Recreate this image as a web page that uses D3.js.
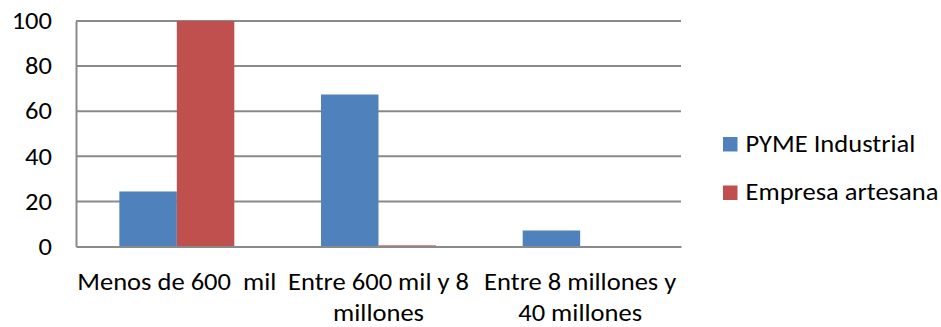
<!DOCTYPE html>
<html>
<head>
<meta charset="utf-8">
<script src="https://cdn.jsdelivr.net/npm/d3@7"></script>
<style>
  html, body { margin: 0; padding: 0; background: #fff; }
  svg text { font-family: Calibri, Carlito, "Open Sans", sans-serif; fill: #000; }
</style>
</head>
<body>
<svg id="chart" width="941" height="327"></svg>
<script>
const categories = ["Menos de 600  mil", "Entre 600 mil y 8 millones", "Entre 8 millones y 40 millones"];
const categoryLines = [["Menos de 600\u00a0\u00a0mil"], ["Entre 600 mil y 8", "millones"], ["Entre 8 millones y", "40 millones"]];
const seriesNames = ["PYME Industrial", "Empresa artesana"];
const pymeIndustrial = [24.4, 67.4, 7.1];
const empresaArtesana = [100, 0.5, 0];
const yTicks = [0, 20, 40, 60, 80, 100];
const colors = ["#4F81BD", "#C0504D"];

const FONT = 23.5, SX = 1.13;
const svg = d3.select("#chart");
const plotLeft = 76, plotRight = 681, plotTop = 21, plotBottom = 246.5;
const x0 = d3.scaleBand().domain(categories).range([plotLeft, plotRight]).paddingInner(0.43).paddingOuter(0.215);
const x1 = d3.scaleBand().domain(seriesNames).range([0, x0.bandwidth()]);
const y = d3.scaleLinear().domain([0, 100]).range([plotBottom, plotTop]);

// gridlines
svg.append("g").selectAll("line").data(yTicks.filter(d => d > 0)).join("line")
  .attr("x1", plotLeft).attr("x2", plotRight)
  .attr("y1", d => y(d)).attr("y2", d => y(d))
  .attr("stroke", "#8a8a8a").attr("stroke-width", 2);

// bars
const series = [pymeIndustrial, empresaArtesana];
const g = svg.append("g");
series.forEach((vals, si) => {
  g.selectAll(".b" + si).data(vals.map((v, i) => ({v, c: categories[i]}))).join("rect")
    .attr("class", "b" + si)
    .attr("x", d => x0(d.c) + x1(seriesNames[si]))
    .attr("width", x1.bandwidth())
    .attr("y", d => y(d.v))
    .attr("height", d => y(0) - y(d.v))
    .attr("fill", colors[si]);
});

// y axis
const yAxis = d3.axisLeft(y).tickValues(yTicks).tickSize(0).tickPadding(0).tickFormat(d3.format("d"));
const ya = svg.append("g").attr("transform", `translate(${plotLeft},0)`).call(yAxis);
ya.select(".domain").attr("stroke", "#8a8a8a").attr("stroke-width", 2);
ya.selectAll(".tick text").each(function() {
  const t = d3.select(this);
  t.attr("x", 0).attr("dy", "0.33em").attr("font-size", FONT)
   .attr("font-family", "Calibri, Carlito, 'Open Sans', sans-serif").attr("fill", "#000")
   .attr("transform", `translate(-24,0) scale(${SX},1)`);
});

// x axis
const xAxis = d3.axisBottom(x0).tickSize(0).tickFormat(() => "");
const xa = svg.append("g").attr("transform", `translate(0,${y(0)})`).call(xAxis);
xa.select(".domain").attr("stroke", "#8a8a8a").attr("stroke-width", 2);
xa.selectAll(".tick").each(function(d, i) {
  categoryLines[i].forEach((ln, k) => {
    d3.select(this).append("text")
      .attr("font-size", FONT).attr("text-anchor", "middle").attr("fill", "#000")
      .attr("font-family", "Calibri, Carlito, 'Open Sans', sans-serif")
      .attr("transform", `translate(0,${43.5 + k * 30.5}) scale(${SX},1)`)
      .text(ln);
  });
});

// legend
const lg = svg.append("g");
seriesNames.forEach((n, i) => {
  const yy = 144 + i * 48.5;
  lg.append("rect").attr("x", 723).attr("y", yy - 7).attr("width", 14.5).attr("height", 14.5).attr("fill", colors[i]);
  lg.append("text").attr("transform", `translate(745.5,${yy}) scale(${SX},1)`)
    .attr("dy", "0.34em").attr("font-size", FONT).text(n);
});
</script>
</body>
</html>
